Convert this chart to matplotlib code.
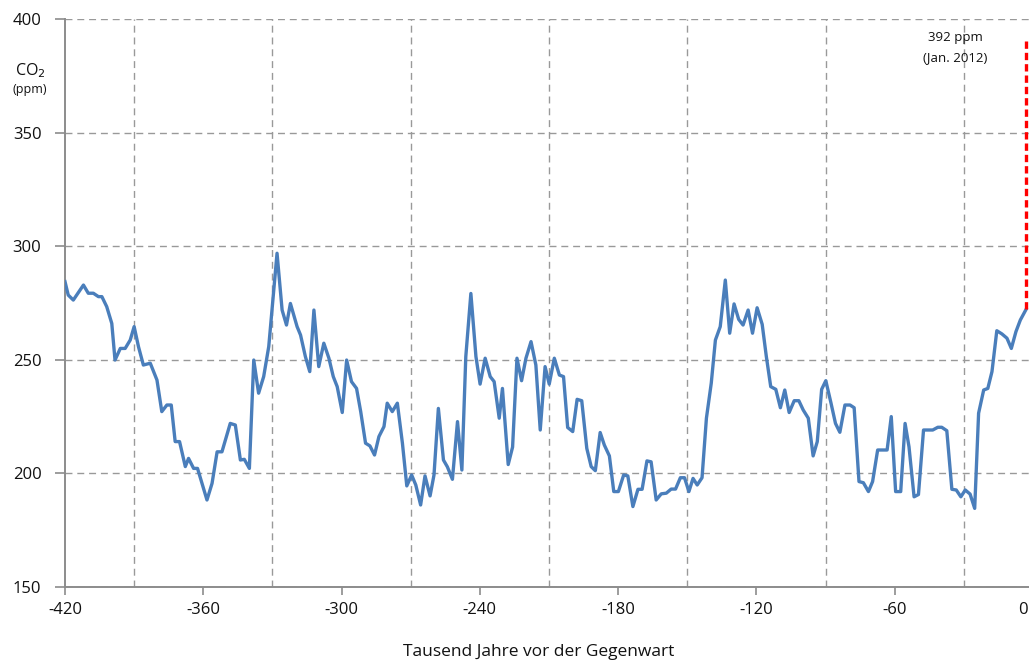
import matplotlib
matplotlib.use("Agg")
import matplotlib.pyplot as plt
from matplotlib.ticker import MultipleLocator
from matplotlib.transforms import ScaledTranslation

# --- data (thousand years before present, CO2 ppm) ---
years = [
    -420, -418.6, -416.4, -412, -409.9, -407.7, -405.5, -404, -401.9, -399.7,
    -398.3, -396, -393.9, -391.7, -390, -388.1, -386, -383, -380.1, -378,
    -375.8, -373.9, -372.2, -370.3, -367.8, -366.4, -364.2, -362.5, -358.4, -356.2,
    -354, -351.9, -348.3, -346.1, -343.9, -342.2, -340, -338.1, -336, -333.8,
    -331.6, -328, -325.8, -323.9, -322.2, -319.3, -317.8, -315.7, -313.8, -312,
    -309.9, -307.7, -305.5, -303.6, -301.9, -299.7, -297.8, -295.7, -293.5, -291.7,
    -289.6, -287.7, -285.7, -283.8, -281.6, -280.2, -278, -275.8, -273.6, -271.7,
    -269.6, -267.8, -265.7, -263.8, -261.6, -259.9, -258, -255.8, -254.1, -251.9,
    -249.7, -247.8, -246.1, -243.9, -241.7, -239.9, -237.7, -235.5, -233.8, -231.6,
    -230.2, -227.7, -225.8, -223.9, -221.9, -220, -217.8, -215.7, -213.8, -211.7,
    -209.9, -207.7, -205.5, -203.7, -201.9, -199.7, -197.8, -195.8, -193.6, -191.7,
    -189.9, -187.8, -186, -183.8, -181.9, -179.9, -177.6, -175.8, -173.6, -171.4,
    -169.6, -167.5, -165.7, -163.5, -161.3, -159.1, -157, -155.1, -153, -151.2,
    -149.3, -147.5, -145.7, -143.6, -141.7, -139.6, -137.8, -135.7, -133.5, -131.6,
    -129.7, -127.7, -125.8, -123.6, -121.7, -119.7, -117.5, -115.7, -113.8, -111.6,
    -109.6, -107.7, -105.8, -103.6, -101.6, -99.7, -97.5, -95.4, -93.6, -91.7,
    -89.9, -87.7, -85.7, -83.8, -81.6, -79.4, -77.6, -75.5, -73.6, -71.4,
    -69.6, -67.4, -65.3, -63.3, -61.5, -59.6, -57.4, -55.5, -53.8, -51.6,
    -49.7, -47.5, -45.4, -43.5, -41.3, -39.6, -37.4, -35.2, -33.3, -31.3,
    -29.4, -27.3, -25.3, -23.6, -21.4, -19.6, -17.8, -15.7, -13.5, -11.3,
    -9.4, -7.4, -5.5, -3,
]
co2 = [
    284.4, 278.5, 276.3, 282.9, 279.3, 279.3, 277.8, 277.8, 273.4, 266,
    249.9, 255, 255, 258.7, 264.6, 255.7, 247.7, 248.5, 241.1, 227.2,
    230.1, 230.1, 214, 214, 203, 206.6, 202.2, 202.2, 188.3, 195.6,
    209.5, 209.5, 222, 221.3, 205.9, 206.2, 202.2, 249.9, 235.3, 242.6,
    255.8, 296.9, 271.9, 265.3, 274.8, 264.6, 260.9, 251.4, 244.8, 271.9,
    247, 257.3, 250.7, 242.6, 238.2, 226.8, 249.9, 240.4, 237.4, 227.2,
    213.3, 212.1, 208.1, 216.2, 220.6, 230.9, 227.2, 230.9, 213.3, 194.5,
    199.3, 194.9, 186.1, 198.9, 190.1, 199.3, 228.6, 205.9, 202.9, 197.4,
    222.8, 201.5, 251.4, 279.2, 251.4, 239.3, 250.7, 242.6, 240.4, 224.3,
    237.4, 203.9, 211.6, 250.7, 240.8, 250.7, 258, 247.7, 219.1, 247,
    239.3, 250.7, 243.3, 242.6, 220.2, 218.4, 232.6, 232, 211, 203,
    201.2, 218, 212.5, 207.7, 192, 192, 199.3, 198.9, 185.4, 193,
    193, 205.5, 205.1, 188.3, 191, 191.3, 193.1, 193.1, 198.1, 198.1,
    192, 197.8, 194.9, 198.1, 224.3, 239.7, 258.7, 264.6, 285.1, 261.7,
    274.6, 267.8, 265.3, 271.9, 261.7, 272.9, 265.6, 251.4, 238.2, 237,
    228.9, 236.7, 226.8, 232, 232, 227.9, 224.3, 207.7, 214, 237,
    240.8, 231.2, 222, 218.1, 230.1, 230.1, 228.9, 196.4, 195.9, 192,
    196.4, 210.3, 210.3, 210.3, 225, 192, 192, 222, 211.7, 189.7,
    190.7, 219.1, 219.1, 219.1, 220.3, 220.3, 218.8, 193, 192.7, 189.7,
    192.7, 190.9, 184.6, 226.5, 236.7, 237.4, 244.8, 262.8, 261.4, 259.5,
    255, 262.4, 267.5, 272.2,
]
modern_year = [-3, -3]
modern_co2 = [272.2, 392]

x_ticks = [-420, -360, -300, -240, -180, -120, -60, 0]
y_ticks = [150, 200, 250, 300, 350, 400]

plt.rcParams['font.family'] = ['Open Sans', 'DejaVu Sans']

fig = plt.figure(figsize=(10.29, 6.62), dpi=100)
ax = fig.add_axes([65 / 1029, 75 / 662, 968 / 1029, 568 / 662])

ax.plot(years, co2, color='#4a7ebb', linewidth=2.4, solid_joinstyle='round', zorder=3)
ax.plot(modern_year, modern_co2, color='#ff0000', linewidth=2.4,
        linestyle=(0, (2.2, 1.2)), zorder=3)

ax.set_xlim(-420, 0)
ax.set_ylim(150, 400)
ax.set_xticks(x_ticks)
ax.set_xticklabels([str(v) for v in x_ticks])
ax.xaxis.set_minor_locator(MultipleLocator(30))
ax.set_yticks(y_ticks)

grid_kw = dict(color='#999999', linestyle=(0, (5, 3.5)), linewidth=1.0)
ax.grid(True, which='minor', axis='x', **grid_kw)
ax.grid(True, which='major', axis='y', **grid_kw)
ax.set_axisbelow(True)

for s in ['top', 'right']:
    ax.spines[s].set_visible(False)
for s in ['left', 'bottom']:
    ax.spines[s].set_color('#8c8c8c')
    ax.spines[s].set_linewidth(1.4)

ax.tick_params(axis='y', which='major', length=7, width=1.2, color='#8c8c8c',
               labelsize=12, pad=10, labelcolor='#111111')
ax.tick_params(axis='x', which='major', length=6, width=1.2, color='#8c8c8c',
               labelsize=12, pad=5, labelcolor='#111111')
ax.tick_params(axis='x', which='minor', length=0)

# shift last "0" label left to stay inside figure
lbls = ax.get_xticklabels()
lbls[-1].set_transform(lbls[-1].get_transform() +
                       ScaledTranslation(-0.10, 0, fig.dpi_scale_trans))

fig.text(539 / 1029, 1 - 652 / 662,
         'Tausend Jahre vor der Gegenwart', ha='center', va='center',
         fontsize=12.5, color='#111111')

fig.text(30 / 1029, 1 - 71 / 662, 'CO$_2$', ha='center', va='center',
         fontsize=11.5, color='#111111')
fig.text(30 / 1029, 1 - 90 / 662, '(ppm)', ha='center', va='center',
         fontsize=9, color='#111111')

fig.text(955 / 1029, 1 - 38 / 662, '392 ppm', ha='center', va='center',
         fontsize=9.5, color='#111111')
fig.text(955 / 1029, 1 - 58 / 662, '(Jan. 2012)', ha='center', va='center',
         fontsize=9.5, color='#111111')

fig.savefig('out.png', dpi=100)
